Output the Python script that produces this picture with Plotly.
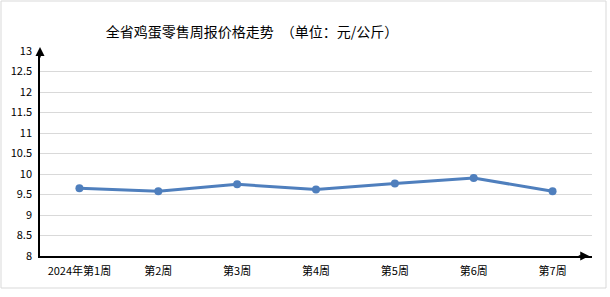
import plotly.graph_objects as go

weeks = ["2024年第1周", "第2周", "第3周", "第4周", "第5周", "第6周", "第7周"]
prices = [9.65, 9.58, 9.75, 9.62, 9.77, 9.90, 9.58]
y_ticks = [8, 8.5, 9, 9.5, 10, 10.5, 11, 11.5, 12, 12.5, 13]
y_labels = ["8", "8.5", "9", "9.5", "10", "10.5", "11", "11.5", "12", "12.5", "13"]

W, H = 610, 297
ml, mr, mt, mb = 40, 18, 51, 41
pw, ph = W - ml - mr, H - mt - mb

def px(x):
    return (x - ml) / pw

def py(y):
    return (H - mb - y) / ph

font = "Noto Sans CJK SC, Liberation Sans, sans-serif"

fig = go.Figure()
fig.add_trace(go.Scatter(
    x=weeks, y=prices, mode="lines+markers",
    line=dict(color="#4F7FBD", width=3),
    marker=dict(color="#4F7FBD", size=8),
    hoverinfo="skip", showlegend=False,
))

fig.update_layout(
    width=W, height=H,
    margin=dict(l=ml, r=mr, t=mt, b=mb),
    paper_bgcolor="white", plot_bgcolor="white",
    font=dict(family=font, size=11, color="#000000"),
    title=dict(text="全省鸡蛋零售周报价格走势　（单位：元/公斤）",
               x=252 / W, xanchor="center", y=1 - 32 / H, yanchor="middle",
               font=dict(size=14, color="#000000", family=font)),
    xaxis=dict(type="category", range=[-0.5, 6.5], showline=True,
               linecolor="#000000", linewidth=1.5, showgrid=False,
               ticks="", tickfont=dict(size=11), fixedrange=True,
               ticklabelstandoff=4),
    yaxis=dict(range=[8, 13], tickvals=y_ticks, ticktext=y_labels,
               showline=True, linecolor="#000000", linewidth=1.5,
               showgrid=True, gridcolor="#D9D9D9", gridwidth=1,
               ticks="", tickfont=dict(size=11), zeroline=False,
               fixedrange=True, ticklabelstandoff=4),
    shapes=[
        dict(type="rect", xref="paper", yref="paper",
             x0=px(1), x1=px(606), y0=py(288), y1=py(1),
             line=dict(color="#D9D9D9", width=1), fillcolor="rgba(0,0,0,0)",
             layer="below"),
    ],
    annotations=[
        dict(xref="paper", yref="paper", x=0, y=1.02, ax=0, ay=12,
             showarrow=True, arrowhead=2, arrowsize=1.2, arrowwidth=1.5,
             arrowcolor="#000000", text=""),
        dict(xref="paper", yref="paper", x=0.995, y=0, ax=-12, ay=0,
             showarrow=True, arrowhead=2, arrowsize=1.2, arrowwidth=1.5,
             arrowcolor="#000000", text=""),
    ],
)

fig.write_html("out.html")
